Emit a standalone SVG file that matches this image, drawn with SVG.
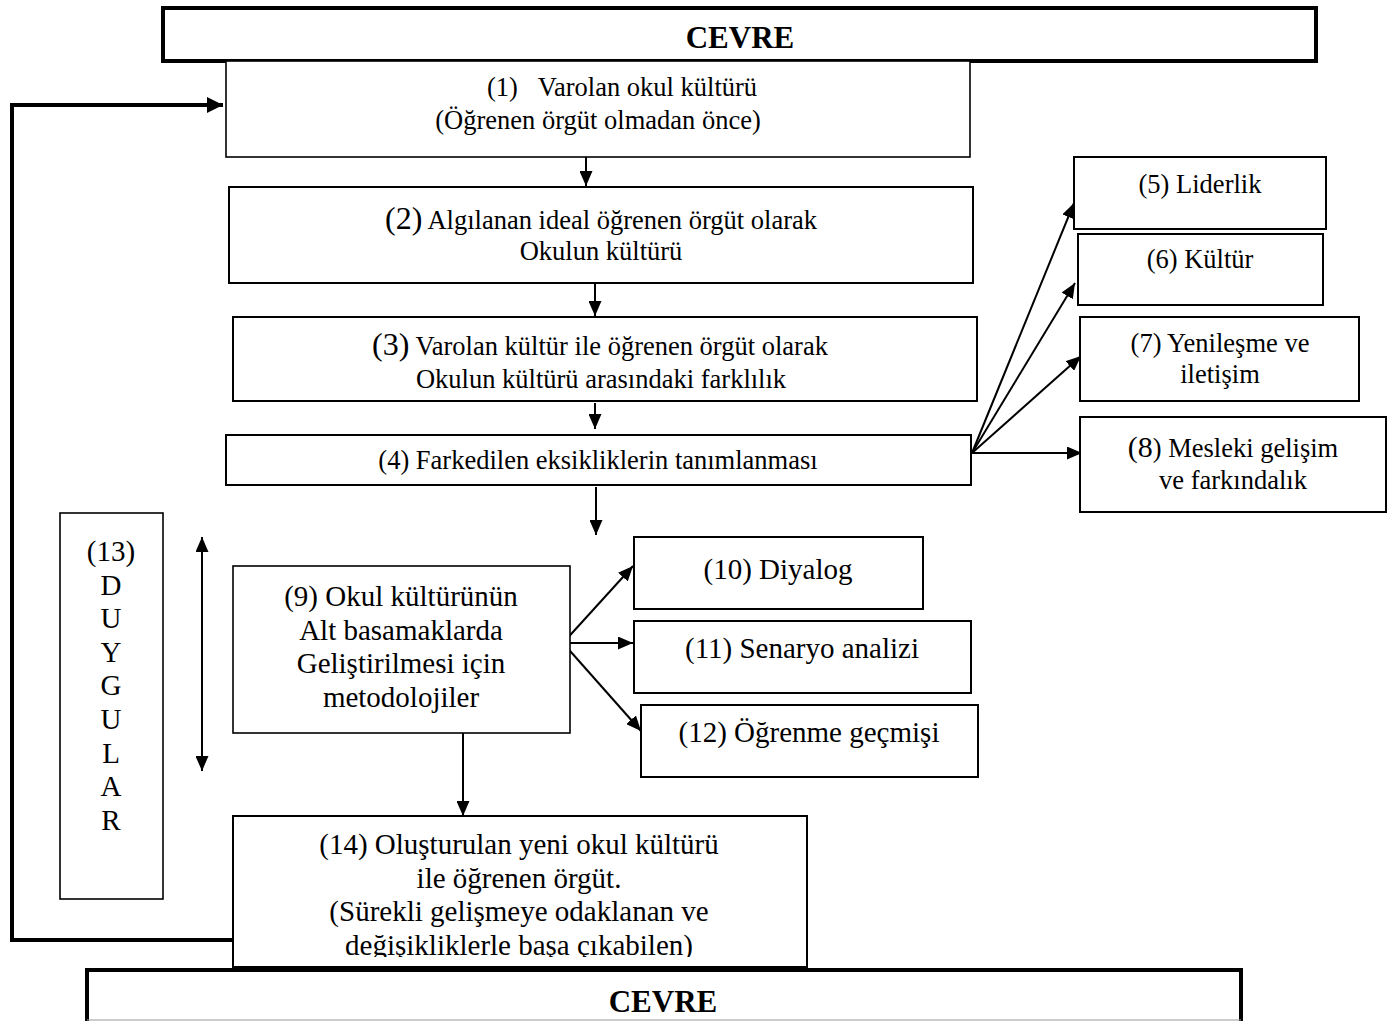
<svg xmlns="http://www.w3.org/2000/svg" width="1391" height="1021" viewBox="0 0 1391 1021">
  <style>
    .t { font-family: "Liberation Serif", "Times New Roman", serif; fill: #000; text-anchor: middle; }
    .s26 { font-size: 26.5px; }
    .s29 { font-size: 29px; }
    .big { font-size: 32px; }
    .env { font-family: "Liberation Serif", "Times New Roman", serif; font-weight: bold; font-size: 31px; text-anchor: middle; }
    .box { fill: #fff; stroke: #000; stroke-width: 2; }
    .thin { fill: #fff; stroke: #000; stroke-width: 1.6; }
    .frame { fill: #fff; stroke: #000; stroke-width: 4; }
    .ln { fill: none; stroke: #000; stroke-width: 2; }
    .fb { fill: none; stroke: #000; stroke-width: 4; }
  </style>
  <defs>
    <marker id="ah" markerUnits="userSpaceOnUse" markerWidth="15" markerHeight="13" refX="15" refY="6.5" orient="auto">
      <path d="M0,0 L15,6.5 L0,13 z" fill="#000"/>
    </marker>
    <marker id="ahs" markerUnits="userSpaceOnUse" markerWidth="15" markerHeight="13" refX="15" refY="6.5" orient="auto-start-reverse">
      <path d="M0,0 L15,6.5 L0,13 z" fill="#000"/>
    </marker>
    <marker id="ahb" markerUnits="userSpaceOnUse" markerWidth="16" markerHeight="16" refX="16" refY="8" orient="auto">
      <path d="M0,0 L16,8 L0,16 z" fill="#000"/>
    </marker>
    <clipPath id="clip14">
      <rect x="233" y="816" width="574" height="141"/>
    </clipPath>
  </defs>

  <!-- environment band, top -->
  <g id="env-top">
    <rect class="frame" x="163" y="8" width="1153" height="53"/>
    <text class="env" x="740" y="48">CEVRE</text>
  </g>

  <!-- connectors -->
  <g id="connectors">
    <!-- feedback loop from (14) back to (1) -->
    <polyline class="fb" points="233,940 12,940 12,105 223,105" marker-end="url(#ahb)"/>
    <line class="ln" x1="586" y1="157" x2="586" y2="186" marker-end="url(#ah)"/>
    <line class="ln" x1="595" y1="283" x2="595" y2="316" marker-end="url(#ah)"/>
    <line class="ln" x1="595" y1="403" x2="595" y2="429" marker-end="url(#ah)"/>
    <line class="ln" x1="596" y1="487" x2="596" y2="535" marker-end="url(#ah)"/>
    <!-- fan from (4) -->
    <line class="ln" x1="972" y1="453" x2="1074" y2="203" marker-end="url(#ah)"/>
    <line class="ln" x1="972" y1="453" x2="1075" y2="283" marker-end="url(#ah)"/>
    <line class="ln" x1="972" y1="453" x2="1081" y2="356" marker-end="url(#ah)"/>
    <line class="ln" x1="972" y1="453" x2="1082" y2="453" marker-end="url(#ah)"/>
    <!-- fan from (9) -->
    <line class="ln" x1="563" y1="643" x2="633" y2="566" marker-end="url(#ah)"/>
    <line class="ln" x1="563" y1="643" x2="633" y2="643" marker-end="url(#ah)"/>
    <line class="ln" x1="563" y1="643" x2="641" y2="731" marker-end="url(#ah)"/>
    <!-- (9) to (14) -->
    <line class="ln" x1="463" y1="733" x2="463" y2="816" marker-end="url(#ah)"/>
    <!-- feelings span -->
    <line class="ln" x1="202" y1="537" x2="202" y2="771" marker-start="url(#ahs)" marker-end="url(#ah)"/>
  </g>

  <g id="n1">
    <rect class="thin" x="226" y="61" width="744" height="96"/>
    <text class="t s26" x="622" y="96">(1)<tspan dx="20">Varolan okul kültürü</tspan></text>
    <text class="t s26" x="598" y="129">(Öğrenen örgüt olmadan önce)</text>
  </g>

  <g id="n2">
    <rect class="box" x="229" y="187" width="744" height="96"/>
    <text class="t s26" x="601" y="229"><tspan class="big">(2)</tspan> Algılanan ideal öğrenen örgüt olarak</text>
    <text class="t s26" x="601" y="260">Okulun kültürü</text>
  </g>

  <g id="n3">
    <rect class="box" x="233" y="317" width="744" height="84"/>
    <text class="t s26" x="600" y="355"><tspan class="big">(3)</tspan> Varolan kültür ile öğrenen örgüt olarak</text>
    <text class="t s26" x="601" y="388">Okulun kültürü arasındaki farklılık</text>
  </g>

  <g id="n4">
    <rect class="box" x="226" y="435" width="745" height="50"/>
    <text class="t s26" x="598" y="469">(4) Farkedilen eksikliklerin tanımlanması</text>
  </g>

  <g id="n5">
    <rect class="box" x="1074" y="157" width="252" height="72"/>
    <text class="t s26" x="1200" y="193">(5) Liderlik</text>
  </g>

  <g id="n6">
    <rect class="box" x="1078" y="234" width="245" height="71"/>
    <text class="t s26" x="1200" y="268">(6) Kültür</text>
  </g>

  <g id="n7">
    <rect class="box" x="1080" y="317" width="279" height="84"/>
    <text class="t s26" x="1220" y="352">(7) Yenileşme ve</text>
    <text class="t s26" x="1220" y="383">iletişim</text>
  </g>

  <g id="n8">
    <rect class="box" x="1080" y="417" width="306" height="95"/>
    <text class="t s26" x="1233" y="457"><tspan font-size="30">(8</tspan>) Mesleki gelişim</text>
    <text class="t s26" x="1233" y="489">ve farkındalık</text>
  </g>

  <g id="n13">
    <rect class="thin" x="60" y="513" width="103" height="386"/>
    <text class="t s29" x="111" y="561">(13)</text>
    <text class="t s29" x="111" y="594.6">D</text>
    <text class="t s29" x="111" y="628.2">U</text>
    <text class="t s29" x="111" y="661.8">Y</text>
    <text class="t s29" x="111" y="695.4">G</text>
    <text class="t s29" x="111" y="729">U</text>
    <text class="t s29" x="111" y="762.6">L</text>
    <text class="t s29" x="111" y="796.2">A</text>
    <text class="t s29" x="111" y="829.8">R</text>
  </g>

  <g id="n9">
    <rect class="thin" x="233" y="566" width="337" height="167"/>
    <text class="t s29" x="401" y="606">(9) Okul kültürünün</text>
    <text class="t s29" x="401" y="640">Alt basamaklarda</text>
    <text class="t s29" x="401" y="673">Geliştirilmesi için</text>
    <text class="t s29" x="401" y="707">metodolojiler</text>
  </g>

  <g id="n10">
    <rect class="box" x="634" y="537" width="289" height="72"/>
    <text class="t s29" x="778" y="579">(10) Diyalog</text>
  </g>

  <g id="n11">
    <rect class="box" x="634" y="621" width="337" height="72"/>
    <text class="t s29" x="802" y="658">(11) Senaryo analizi</text>
  </g>

  <g id="n12">
    <rect class="box" x="641" y="705" width="337" height="72"/>
    <text class="t s29" x="809" y="742">(12) Öğrenme geçmişi</text>
  </g>

  <g id="n14">
    <rect class="box" x="233" y="816" width="574" height="151"/>
    <g clip-path="url(#clip14)">
      <text class="t s29" x="519" y="854">(14) Oluşturulan yeni okul kültürü</text>
      <text class="t s29" x="519" y="888">ile öğrenen örgüt.</text>
      <text class="t s29" x="519" y="921">(Sürekli gelişmeye odaklanan ve</text>
      <text class="t s29" x="519" y="955">değişikliklerle başa çıkabilen)</text>
    </g>
  </g>

  <!-- environment band, bottom -->
  <g id="env-bottom">
    <rect class="frame" x="87" y="970" width="1154" height="70"/>
    <line x1="87" y1="1020" x2="1241" y2="1020" stroke="#999" stroke-width="1"/>
    <text class="env" x="663" y="1012">CEVRE</text>
  </g>
</svg>
